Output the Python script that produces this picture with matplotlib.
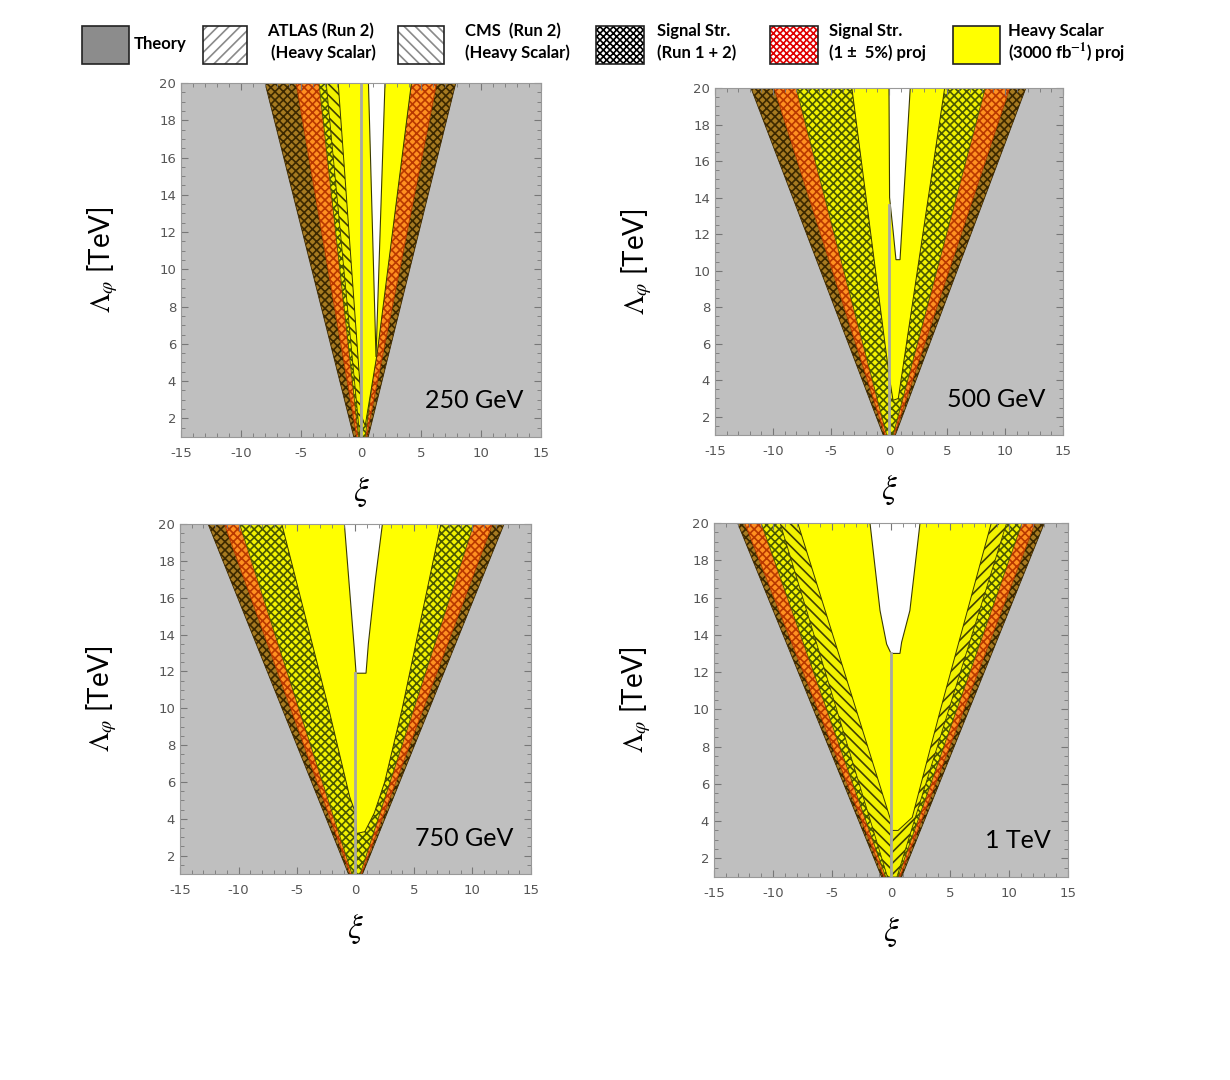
import numpy as np
import matplotlib.pyplot as plt
from matplotlib.patches import Rectangle
from matplotlib.ticker import MultipleLocator

plt.rcParams['hatch.linewidth'] = 1.2
plt.rcParams['axes.unicode_minus'] = False
plt.rcParams['mathtext.fontset'] = 'stix'

# ---- data (xi values) ----
masses = ['250 GeV', '500 GeV', '750 GeV', '1 TeV']
lam_lo, lam_hi = 1.0, 20.0

# band edges (left, right) at Lambda = 20 and at Lambda = 1
brown_top = [(-8.0, 7.9), (-11.9, 11.8), (-12.6, 12.7), (-13.0, 13.0)]
brown_bot = [(-0.6, 0.6), (-0.5, 0.55), (-0.6, 0.6), (-0.8, 0.9)]
orange_top = [(-5.4, 6.3), (-9.9, 10.4), (-11.2, 11.7), (-12.4, 12.2)]
orange_bot = [(-0.35, 0.45), (-0.35, 0.45), (-0.45, 0.5), (-0.6, 0.75)]
mu_top = [(-3.5, 4.2), (-8.0, 8.3), (-9.9, 10.1), (-11.0, 11.1)]
mu_bot = [(-0.2, 0.35), (-0.2, 0.35), (-0.3, 0.4), (-0.45, 0.6)]
# heavy scalar run 2 hatched strips (None = not visible)
hs_top = [(-2.9, None), (None, None), (None, None), (-9.4, 9.8)]
hs_bot = [(-0.1, None), (None, None), (None, None), (-0.3, 0.5)]

# heavy scalar 3000 fb-1 projection (yellow) outlines
yel_xi = [
    [-1.9, -0.05, 0.0, 0.35, 1.35, 4.2],
    [-3.2, 0.0, 0.35, 0.8, 4.8],
    [-6.3, -2.3, -0.5, 0.0, 0.1, 0.8, 1.6, 2.5, 4.0, 7.3],
    [-7.9, 0.0, 0.05, 0.6, 1.8, 4.2, 8.5],
]
yel_lam = [
    [20, 3.5, 2.2, 1.6, 5.5, 20],
    [20, 4.3, 2.9, 3.0, 20],
    [20, 10, 5.2, 4.3, 3.2, 3.3, 4.3, 6.0, 10, 20],
    [20, 4.0, 3.5, 3.5, 4.2, 10, 20],
]
# allowed (white) region outlines
white_xi = [
    [0.62, 1.25, 2.0],
    [0.0, 0.05, 0.35, 0.6, 0.95, 1.83],
    [-0.95, -0.1, 0.05, 0.9, 1.1, 1.7, 2.3],
    [-1.78, -0.93, -0.37, 0.0, 0.76, 0.9, 1.6, 2.46],
]
white_lam = [
    [20, 5.3, 20],
    [20, 14.0, 12.2, 10.6, 10.6, 20],
    [20, 13.2, 11.9, 11.9, 13.5, 17, 20],
    [20, 15.3, 13.5, 13.0, 13.0, 13.6, 15.3, 20],
]
center_top = [20, 13.6, 11.9, 13.0]

# axes boxes in pixels: left, top, right, bottom
boxes = [(181, 83, 541, 437), (715, 88, 1063, 435),
         (180, 524, 531, 874), (714, 523, 1068, 877)]

W, H = 1230, 1080
fig = plt.figure(figsize=(12.3, 10.8), dpi=100)


def band(ax, top, bot, face, hcol, hatch):
    ax.fill([bot[0], top[0], top[1], bot[1]], [lam_lo, lam_hi, lam_hi, lam_lo],
            facecolor=face, edgecolor=hcol, hatch=hatch, lw=0.6)


for i, (l, t, r, b) in enumerate(boxes):
    ax = fig.add_axes([l / W, 1 - b / H, (r - l) / W, (b - t) / H])
    ax.set_facecolor('#bfbfbf')
    band(ax, brown_top[i], brown_bot[i], '#a67a20', '#3c2800', 'xxxx')
    band(ax, orange_top[i], orange_bot[i], '#ff9020', '#b83800', 'xxxx')
    band(ax, mu_top[i], mu_bot[i], '#f2f200', '#4a5800', 'xxxx')
    hl, hr = hs_top[i]
    if hl is not None:
        ax.fill([hs_bot[i][0], hl, 0, 0], [lam_lo, lam_hi, lam_hi, lam_lo],
                facecolor='#f2f200', edgecolor='#404000', hatch='\\\\\\', lw=0.6)
    if hr is not None:
        ax.fill([0, 0, hr, hs_bot[i][1]], [lam_lo, lam_hi, lam_hi, lam_lo],
                facecolor='#f2f200', edgecolor='#404000', hatch='///', lw=0.6)
    ax.fill(yel_xi[i], yel_lam[i], facecolor='#ffff00', edgecolor='#3a3a00', lw=0.7)
    ax.fill(white_xi[i], white_lam[i], facecolor='white', edgecolor='#3a3a00', lw=0.8)
    ax.plot([0, 0], [lam_lo, center_top[i]], color='#a8a8a0', lw=2)

    ax.set_xlim(-15, 15)
    ax.set_ylim(lam_lo, lam_hi)
    ax.set_xticks(np.arange(-15, 16, 5))
    ax.set_yticks(np.arange(2, 21, 2))
    ax.xaxis.set_minor_locator(MultipleLocator(1))
    ax.yaxis.set_minor_locator(MultipleLocator(0.5))
    ax.tick_params(which='both', direction='in', top=True, right=True,
                   color='#777777', labelsize=9.5, labelcolor='#555555')
    ax.tick_params(which='major', length=5)
    ax.tick_params(which='minor', length=3)
    ax.tick_params(axis='x', pad=7)
    for s in ax.spines.values():
        s.set_color('#999999')
    ax.text(0.95, 0.07, masses[i], transform=ax.transAxes, ha='right',
            va='bottom', fontsize=18, family='Lato', color='black')

    cx = (l + r) / 2
    fig.text((l - 78) / W, 1 - (t + b) / 2 / H, r'$\Lambda_{\varphi}$ [TeV]',
             rotation=90, ha='center', va='center', fontsize=20, family='Lato')
    fig.text(cx / W, 1 - (b + 55) / H, r'$\xi$', ha='center', va='center',
             fontsize=24)

# ---- legend ----
leg_boxes = [(82, 129), (203, 247), (398, 444), (596, 644), (770, 818), (953, 1000)]
leg_face = ['#8c8c8c', 'white', 'white', 'white', 'white', '#ffff00']
leg_hcol = ['#8c8c8c', '#8a8a8a', '#8a8a8a', 'black', '#e00000', '#ffff00']
leg_hatch = [None, '///', '\\\\\\', 'xxxxx', 'xxxxx', None]
leg_text = [('Theory', None), ('ATLAS (Run 2)', ' (Heavy Scalar)'),
            ('CMS  (Run 2)', '(Heavy Scalar)'), ('Signal Str.', '(Run 1 + 2)'),
            ('Signal Str.', '(1 ±  5%) proj'),
            ('Heavy Scalar', r'(3000 fb$^{\mathbf{-1}}$) proj')]
leg_tx = [134, 267, 465, 657, 829, 1008]
y0, y1 = 26, 64
for (x0, x1), fc, hc, ht, (t1, t2), tx in zip(leg_boxes, leg_face, leg_hcol,
                                             leg_hatch, leg_text, leg_tx):
    fig.add_artist(Rectangle((x0 / W, 1 - y1 / H), (x1 - x0) / W, (y1 - y0) / H,
                             transform=fig.transFigure, facecolor=fc,
                             edgecolor=hc, hatch=ht, lw=0))
    fig.add_artist(Rectangle((x0 / W, 1 - y1 / H), (x1 - x0) / W, (y1 - y0) / H,
                             transform=fig.transFigure, fill=False,
                             edgecolor='#222222', lw=1.2))
    if t2 is None:
        fig.text(tx / W, 1 - 44 / H, t1, ha='left', va='center', fontsize=12,
                 family='Lato', weight='bold')
    else:
        fig.text(tx / W, 1 - 31 / H, t1, ha='left', va='center', fontsize=12,
                 family='Lato', weight='bold')
        fig.text(tx / W, 1 - 53 / H, t2, ha='left', va='center', fontsize=12,
                 family='Lato', weight='bold')

fig.savefig('out.png', dpi=100)
plt.close(fig)
